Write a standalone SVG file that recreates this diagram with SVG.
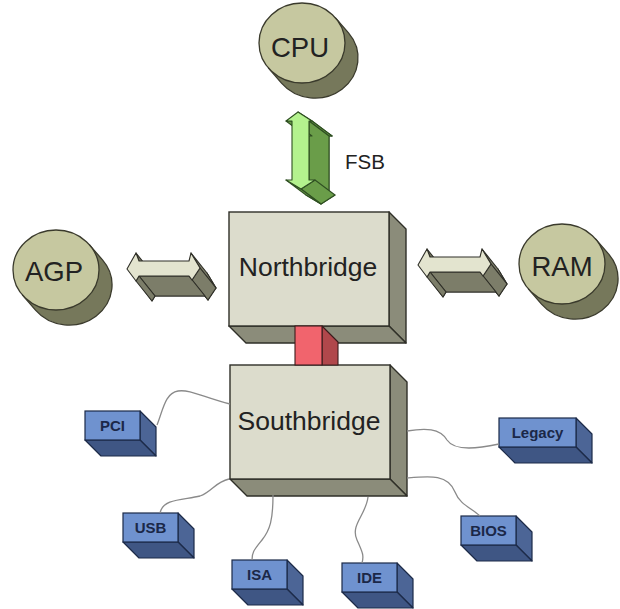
<svg xmlns="http://www.w3.org/2000/svg" xmlns:xlink="http://www.w3.org/1999/xlink" width="620" height="609" viewBox="0 0 620 609">
<style>
  .lbl{font-family:"Liberation Sans",Arial,sans-serif;fill:#222;text-anchor:middle}
  .big{font-size:27.5px}
  .bridge{font-size:26.5px}
  .small{font-size:15px;font-weight:bold;fill:#1b2848}
  .diskF{fill:#c6c8a0;stroke:#3a3a2c;stroke-width:1.3}
  .diskS{fill:#76785b;stroke:#3a3a2c;stroke-width:1.3;stroke-linejoin:round}
  .boxF{fill:#dcdccc;stroke:#2f2f28;stroke-width:1.4}
  .boxS{fill:#8b8c7a;stroke:#2f2f28;stroke-width:1.4;stroke-linejoin:round}
  .blueF{fill:#6f92cf;stroke:#1c2a48;stroke-width:1.2}
  .blueR{fill:#4c6596;stroke:#1c2a48;stroke-width:1.2;stroke-linejoin:round}
  .blueB{fill:#3f5684;stroke:#1c2a48;stroke-width:1.2;stroke-linejoin:round}
  .wire{fill:none;stroke:#8a8a8a;stroke-width:1.3}
  .grayD{fill:#7c7d69;stroke:#2f2f28;stroke-width:1.1;stroke-linejoin:round}
  .grayL{fill:#e3e4cf;stroke:#2f2f28;stroke-width:1.1;stroke-linejoin:round}
  .greenD{fill:#6a9d49;stroke:#2f4f22;stroke-width:1.1;stroke-linejoin:round}
  .greenL{fill:#b4f28e;stroke:#2f4f22;stroke-width:1.1;stroke-linejoin:round}
</style>
<defs>
  <g id="disk">
    <path class="diskS" d="M33.5,-25.1 L46.5,-10.1 A43 40 0 0 1 -20.5,40.1 L-33.5,25.1 Z"/>
    <ellipse class="diskF" cx="0" cy="0" rx="43" ry="40"/>
  </g>
  <g id="bb55">
    <polygon class="blueR" points="55,0 71,16 71,45 55,29"/>
    <polygon class="blueB" points="0,29 55,29 71,45 16,45"/>
    <rect class="blueF" x="0" y="0" width="55" height="29"/>
  </g>
  <g id="harrow">
    <polygon class="grayD" points="143,289 152,273 155,281 205,281 207,273 216,288 208,300 205,296 155,296 152,301"/>
    <polygon class="grayD" points="136,253 139,261 155,281 152,273"/>
    <polygon class="grayD" points="191,253 200,268 216,288 207,273"/>
    <polygon class="grayD" points="192,280 189,276 205,296 208,300"/>
    <polygon class="grayD" points="200,268 192,280 208,300 216,288"/>
    <polygon class="grayD" points="189,276 139,276 155,296 205,296"/>
    <polygon class="grayD" points="139,276 136,281 152,301 155,296"/>
    <polygon class="grayL" points="127,269 136,253 139,261 189,261 191,253 200,268 192,280 189,276 139,276 136,281"/>
  </g>
</defs>

<g id="nodes">
  <g id="cpu">
    <use xlink:href="#disk" href="#disk" transform="translate(302,43)"/>
    <text class="lbl big" x="300" y="56.5">CPU</text>
  </g>
  <g id="agp">
    <use xlink:href="#disk" href="#disk" transform="translate(56,270)"/>
    <text class="lbl big" x="54" y="281">AGP</text>
  </g>
  <g id="ram">
    <use xlink:href="#disk" href="#disk" transform="translate(562,264)"/>
    <text class="lbl big" x="562" y="276">RAM</text>
  </g>
  <g id="northbridge">
    <polygon class="boxS" points="389,212 406,229 406,343 389,326"/>
    <polygon class="boxS" points="229,326 389,326 406,343 246,343"/>
    <rect class="boxF" x="229" y="212" width="160" height="114"/>
    <text class="lbl bridge" x="308" y="276">Northbridge</text>
  </g>
  <g id="southbridge">
    <polygon class="boxS" points="390,365 407,382 407,496 390,479"/>
    <polygon class="boxS" points="230,479 390,479 407,496 247,496"/>
    <rect class="boxF" x="230" y="365" width="160" height="114"/>
    <text class="lbl bridge" x="309" y="429.5">Southbridge</text>
  </g>
  <g id="pci" transform="translate(85,411)">
    <use xlink:href="#bb55" href="#bb55"/>
    <text class="lbl small" x="27.5" y="19.5">PCI</text>
  </g>
  <g id="usb" transform="translate(123,513)">
    <use xlink:href="#bb55" href="#bb55"/>
    <text class="lbl small" x="27.5" y="19.5">USB</text>
  </g>
  <g id="isa" transform="translate(232,560)">
    <use xlink:href="#bb55" href="#bb55"/>
    <text class="lbl small" x="27.5" y="19.5">ISA</text>
  </g>
  <g id="ide" transform="translate(342,563)">
    <use xlink:href="#bb55" href="#bb55"/>
    <text class="lbl small" x="27.5" y="19.5">IDE</text>
  </g>
  <g id="bios" transform="translate(461,516)">
    <use xlink:href="#bb55" href="#bb55"/>
    <text class="lbl small" x="27.5" y="19.5">BIOS</text>
  </g>
  <g id="legacy" transform="translate(499,418)">
    <polygon class="blueR" points="77,0 93,16 93,45 77,29"/>
    <polygon class="blueB" points="0,29 77,29 93,45 16,45"/>
    <rect class="blueF" x="0" y="0" width="77" height="29"/>
    <text class="lbl small" x="38.5" y="19.5">Legacy</text>
  </g>
</g>

<g id="connectors">
  <g id="fsb">
    <polygon class="greenD" points="318,127 332,136 329,136 329,195 335,195 321,204 306,195 312,195 312,136 306,136"/>
    <polygon class="greenD" points="298,112 312,121 332,136 318,127"/>
    <polygon class="greenD" points="312,121 309,121 329,136 332,136"/>
    <polygon class="greenD" points="309,121 309,180 329,195 329,136"/>
    <polygon class="greenD" points="315,180 301,189 321,204 335,195"/>
    <polygon class="greenD" points="301,189 286,180 306,195 321,204"/>
    <polygon class="greenD" points="292,121 286,121 306,136 312,136"/>
    <polygon class="greenL" points="298,112 312,121 309,121 309,180 315,180 301,189 286,180 292,180 292,121 286,121"/>
    <text class="lbl" x="345" y="169" style="text-anchor:start;font-size:20.5px">FSB</text>
  </g>
  <use id="agp-link" xlink:href="#harrow" href="#harrow"/>
  <use id="ram-link" xlink:href="#harrow" href="#harrow" transform="translate(291,-4)"/>
  <g id="nb-sb-link">
    <polygon points="322,326 338,342 338,365 322,365" fill="#b0474b" stroke="#3a1c1c" stroke-width="1.1" stroke-linejoin="round"/>
    <rect x="295" y="326" width="27" height="39" fill="#f1646d" stroke="#3a1c1c" stroke-width="1.1"/>
  </g>
  <path class="wire" d="M230,404 C205,398 190,389 178,391 C165,393 163,410 157,425"/>
  <path class="wire" d="M229,479 C215,482 212,492 200,496 C185,500 163,498 160,513"/>
  <path class="wire" d="M273,495 C273,520 270,530 262,540 C254,550 252,552 252,560"/>
  <path class="wire" d="M368,497 C366,515 350,525 357,540 C363,553 364,556 362,563"/>
  <path class="wire" d="M407,431 C425,428 440,428 447,440 C455,452 480,448 499,444"/>
  <path class="wire" d="M407,478 C430,476 448,474 455,492 C460,505 472,508 480,516"/>
</g>
</svg>
